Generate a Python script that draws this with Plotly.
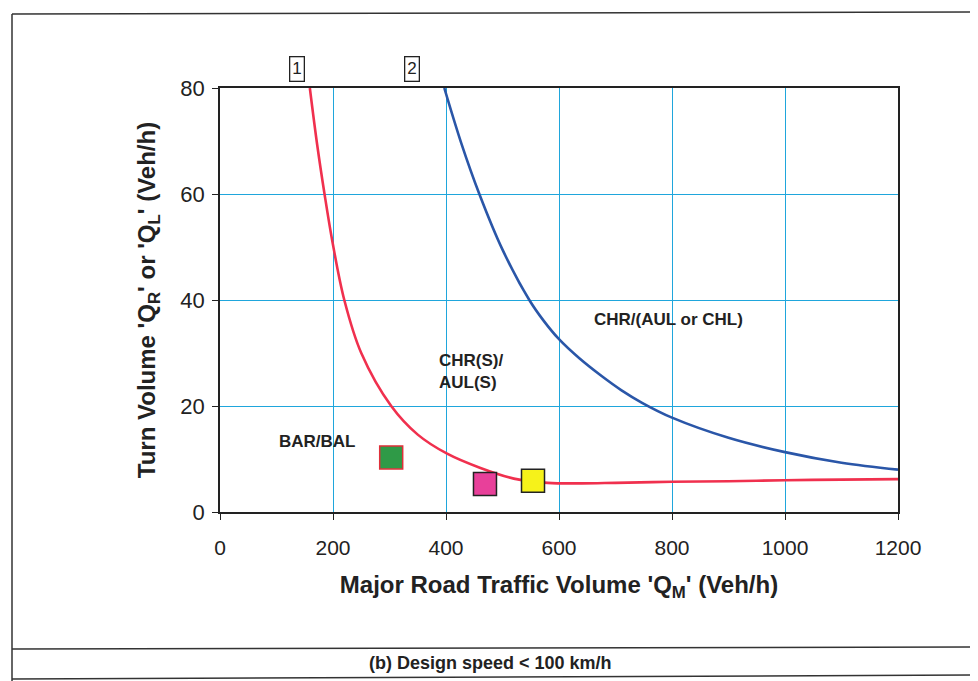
import plotly.graph_objects as go

# Curve 1 (red): lower warrant boundary
red_x = [159, 172, 185, 199, 220, 250, 303, 350, 402, 461, 520, 580, 640, 700, 800, 900, 1000, 1100, 1200]
red_y = [80, 69.3, 60, 51, 40, 30, 20, 14.6, 11.0, 8.3, 6.3, 5.5, 5.4, 5.5, 5.7, 5.8, 6.0, 6.1, 6.2]

# Curve 2 (blue): upper warrant boundary
blue_x = [397, 427, 459, 500, 548, 572, 600, 636, 676, 710, 747, 800, 900, 1000, 1100, 1200]
blue_y = [80, 69.6, 60, 49.5, 39.9, 36.2, 32.6, 29.0, 25.6, 23.0, 20.6, 17.8, 14.0, 11.3, 9.3, 8.0]

# Observed points
pt_x = [303, 469, 554]
pt_y = [10.3, 5.3, 5.9]
pt_fill = ["#2f9a47", "#e8409a", "#f6f21a"]
pt_edge = ["#e0303a", "#222222", "#222222"]

x_ticks = [0, 200, 400, 600, 800, 1000, 1200]
y_ticks = [0, 20, 40, 60, 80]

region_labels = ["BAR/BAL", "CHR(S)/<br>AUL(S)", "CHR/(AUL or CHL)"]
region_x = [173, 384, 658]
region_y = [13.3, 26.6, 36.4]

curve_tags = ["1", "2"]
curve_tag_x = [136, 340]

# page-pixel geometry of the plot area (for placing frame/caption)
PL, PR, PT, PB = 220, 898, 88, 512
def px(xp):
    return (xp - PL) / (PR - PL)
def py(yp):
    return (PB - yp) / (PB - PT)

fig = go.Figure()
fig.add_trace(go.Scatter(x=red_x, y=red_y, mode="lines",
                         line=dict(color="#f0304e", width=2.6, shape="spline", smoothing=1.0),
                         hoverinfo="skip", showlegend=False))
fig.add_trace(go.Scatter(x=blue_x, y=blue_y, mode="lines",
                         line=dict(color="#2a56a8", width=2.6, shape="spline", smoothing=1.0),
                         hoverinfo="skip", showlegend=False))
fig.add_trace(go.Scatter(x=pt_x, y=pt_y, mode="markers",
                         marker=dict(symbol="square", size=23, color=pt_fill,
                                     line=dict(color=pt_edge, width=1.5)),
                         showlegend=False, cliponaxis=False))

for t, x, y in zip(region_labels, region_x, region_y):
    fig.add_annotation(x=x, y=y, xref="x", yref="y", text="<b>" + t + "</b>",
                       showarrow=False, xanchor="left" if t != "BAR/BAL" else "center",
                       yanchor="middle", align="left",
                       font=dict(family="Liberation Sans, Arial", size=17, color="#222222"))

for t, x in zip(curve_tags, curve_tag_x):
    fig.add_annotation(x=x, y=py(69), xref="x", yref="paper", text=t,
                       showarrow=False, yanchor="middle",
                       bordercolor="#222222", borderwidth=1.3, borderpad=2,
                       font=dict(family="Liberation Sans, Arial", size=17, color="#222222"))

# caption
fig.add_annotation(x=px(490), y=py(663), xref="paper", yref="paper", yanchor="middle",
                   text="<b>(b) Design speed &lt; 100 km/h</b>", showarrow=False,
                   font=dict(family="Liberation Sans, Arial", size=18, color="#222222"))

# frame around figure
frame = dict(color="#333333", width=1.5)
fig.add_shape(type="line", xref="paper", yref="paper", x0=px(12), x1=px(975), y0=py(14), y1=py(12), line=frame)
fig.add_shape(type="line", xref="paper", yref="paper", x0=px(12), x1=px(12), y0=py(14), y1=py(690), line=frame)
fig.add_shape(type="line", xref="paper", yref="paper", x0=px(975), x1=px(975), y0=py(12), y1=py(690), line=frame)
fig.add_shape(type="line", xref="paper", yref="paper", x0=px(12), x1=px(975), y0=py(649), y1=py(647), line=frame)
fig.add_shape(type="line", xref="paper", yref="paper", x0=px(12), x1=px(975), y0=py(679), y1=py(675), line=frame)

grid_color = "#1fa6dc"
fig.update_xaxes(range=[0, 1200], tickvals=x_ticks, ticktext=[str(v) for v in x_ticks],
                 showgrid=True, gridcolor=grid_color, gridwidth=1.3,
                 showline=True, linecolor="#222222", linewidth=1.5, mirror=True,
                 ticks="outside", ticklen=6, tickcolor="#222222", zeroline=False,
                 ticklabelstandoff=10,
                 tickfont=dict(family="Liberation Sans, Arial", size=21, color="#222222"),
                 title=dict(text="<b>Major Road Traffic Volume 'Q<sub>M</sub>' (Veh/h)</b>",
                            font=dict(family="Liberation Sans, Arial", size=24, color="#222222"),
                            standoff=18))
fig.update_yaxes(range=[0, 80], tickvals=y_ticks,
                 showgrid=True, gridcolor=grid_color, gridwidth=1.3,
                 showline=True, linecolor="#222222", linewidth=1.5, mirror=True,
                 ticks="outside", ticklen=6, tickcolor="#222222", zeroline=False,
                 ticklabelstandoff=3,
                 tickfont=dict(family="Liberation Sans, Arial", size=22, color="#222222"),
                 title=dict(text="<b>Turn Volume 'Q<sub>R</sub>' or 'Q<sub>L</sub>' (Veh/h)</b>",
                            font=dict(family="Liberation Sans, Arial", size=24, color="#222222"),
                            standoff=18))

fig.update_layout(width=978, height=681,
                  margin=dict(l=PL - 8, r=978 - PR + 8, t=PT - 8, b=681 - PB + 8),
                  paper_bgcolor="white", plot_bgcolor="white",
                  showlegend=False)

fig.write_html("out.html")
